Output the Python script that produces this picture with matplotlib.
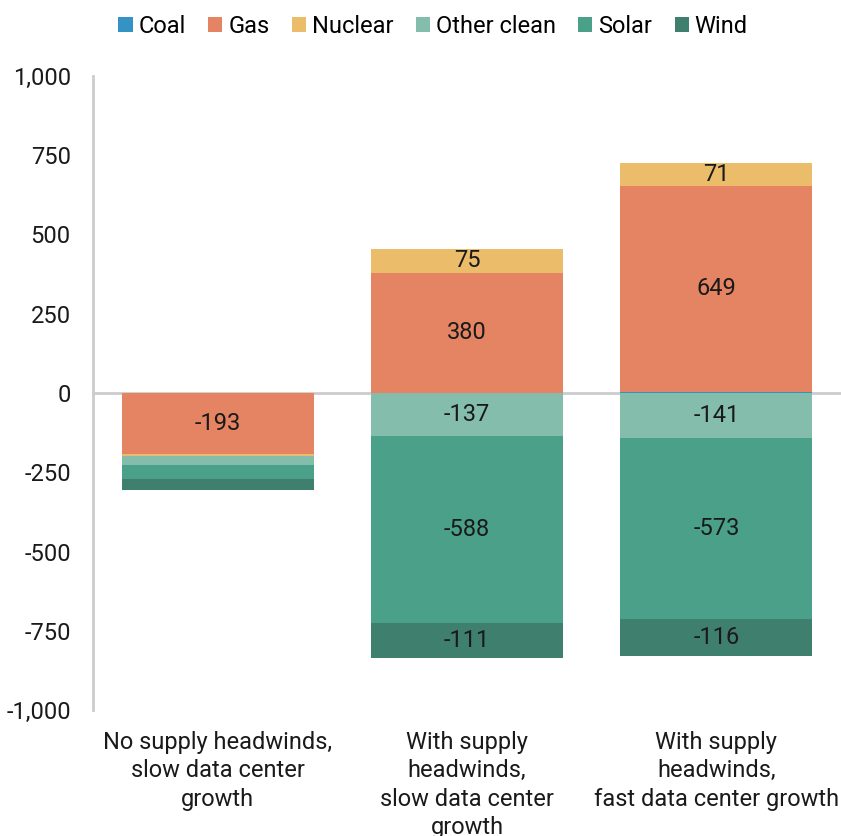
import matplotlib

matplotlib.use("Agg")
import numpy as np
from matplotlib import pyplot as plt
from matplotlib.ticker import FuncFormatter

plt.rcParams["font.family"] = ["Roboto", "DejaVu Sans"]

scenarios = [
    "No supply headwinds,\nslow data center\ngrowth",
    "With supply\nheadwinds,\nslow data center\ngrowth",
    "With supply\nheadwinds,\nfast data center growth",
]
sources = ["Coal", "Gas", "Nuclear", "Other clean", "Solar", "Wind"]
colors = ["#3592c4", "#e48462", "#ebbd6a", "#85bdad", "#4ba08a", "#3f7f6e"]

coal = [0, 0, 4]
gas = [-193, 380, 649]
nuclear = [-5, 75, 71]
other_clean = [-28, -137, -141]
solar = [-46, -588, -573]
wind = [-33, -111, -116]
series = [coal, gas, nuclear, other_clean, solar, wind]

# segments smaller than this stay unlabelled
label_min = 60
fs = 17

fig = plt.figure(figsize=(8.41, 8.36), dpi=100)
ax = fig.add_axes([0.1106, 0.1507, 0.8894, 0.7584])

x = np.arange(len(scenarios))
pos_base = np.zeros(len(scenarios))
neg_base = np.zeros(len(scenarios))
for name, vals, color in zip(sources, series, colors):
    vals = np.array(vals, dtype=float)
    bottom = np.where(vals >= 0, pos_base, neg_base)
    ax.bar(x, vals, bottom=bottom, width=0.77, color=color, label=name, zorder=2)
    for xi, v, b in zip(x, vals, bottom):
        if abs(v) >= label_min:
            ax.text(xi, b + v / 2, f"{v:.0f}", ha="center", va="center",
                    fontsize=fs, color="#1a1a1a", zorder=3)
    pos_base += np.where(vals >= 0, vals, 0)
    neg_base += np.where(vals < 0, vals, 0)

ax.axhline(0, color="#cccccc", linewidth=2, zorder=1)
ax.set_xlim(-0.5, 2.5)
ax.set_ylim(-1000, 1000)
ax.set_yticks(np.arange(-1000, 1001, 250))
ax.yaxis.set_major_formatter(FuncFormatter(lambda v, _: f"{v:,.0f}"))
ax.set_xticks(x)
ax.set_xticklabels(scenarios, fontsize=fs, color="#1a1a1a", va="top", linespacing=1.3)
ax.tick_params(axis="x", length=0, pad=15)
ax.tick_params(axis="y", length=0, pad=16, labelsize=fs, labelcolor="#1a1a1a")

for side in ["top", "right", "bottom"]:
    ax.spines[side].set_visible(False)
ax.spines["left"].set_color("#cccccc")
ax.spines["left"].set_linewidth(2)

fig.legend(loc="upper center", bbox_to_anchor=(0.515, 1.008), ncol=6, frameon=False,
           fontsize=fs, handlelength=0.6, handleheight=0.6, handletextpad=0.25,
           columnspacing=0.95)

fig.savefig("out.png", dpi=100)
